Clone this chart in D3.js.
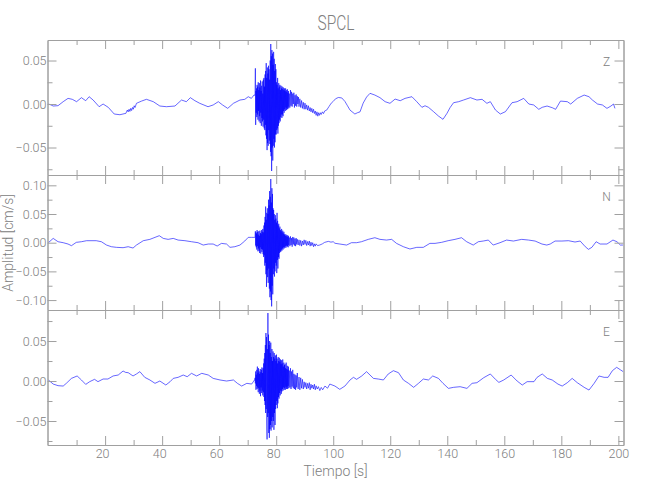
<!DOCTYPE html>
<html>
<head>
<meta charset="utf-8">
<script src="https://cdn.jsdelivr.net/npm/d3@7"></script>
<style>
  body { margin: 0; background: #fff; }
  text { font-family: "Roboto", "Liberation Sans Narrow", sans-serif; font-weight: 300; fill: #808080; }
  .axis path, .axis line { stroke: #a0a0a0; }
</style>
</head>
<body>
<div id="chart"></div>
<script>
// chart text
const title = 'SPCL';
const xLabel = 'Tiempo [s]';
const yLabel = 'Amplitud [cm/s]';
const components = ['Z', 'N', 'E'];

// axis ticks
const xMajor = [20, 40, 60, 80, 100, 120, 140, 160, 180, 200];
const xMinor = [10, 30, 50, 70, 90, 110, 130, 150, 170, 190];
const xDomain = [-0.2, 201.8];
const yDomains = [[-0.0816, 0.0736], [-0.1173, 0.118], [-0.08, 0.0888]];
const yMajor = [[-0.05, 0, 0.05], [-0.10, -0.05, 0, 0.05, 0.10], [-0.05, 0, 0.05]];
const yMinor = [[-0.075, -0.025, 0.025], [-0.075, -0.025, 0.025, 0.075], [-0.075, -0.025, 0.025, 0.075]];

// the burst is sampled every 0.1 s from 72.5 s
const burstStart = 72.5;
const burstStep = 0.1;

// ---- Z ----
const zPre = [[0.1,0],[1.0,-0.001],[1.8,-0.0023],[3.5,-0.0019],[5.3,0.0027],[7.0,0.0065],[8.5,0.0054],[10.0,0.0027],
  [11.7,0.0073],[13.2,0.0038],[14.4,0.0084],[15.8,0.0046],[17.9,-0.0031],[19.3,0],[21.1,-0.0038],[23.2,-0.0115],
  [25.2,-0.0123],[27.3,-0.0107],[27.8,-0.0069],[28.1,-0.009],[28.4,-0.006],[28.7,-0.0085],[29.0,-0.005],[29.3,-0.0075],
  [29.6,-0.004],[29.9,-0.006],[30.2,-0.002],[30.5,-0.004],[31.0,0.0008],[32.8,0.0034],[34.5,0.0054],[36.9,0.0027],
  [39.2,-0.0023],[41.5,-0.0031],[44.5,-0.0023],[46.8,0.0046],[48.5,0.0027],[49.9,0.0073],[51.5,0.0038],[53.2,0.0008],
  [56.1,-0.0031],[57.9,-0.0011],[59.7,0.0027],[61.2,-0.0011],[63.0,-0.005],[65.0,0.0008],[67.3,0.0046],[69.0,0.0054],
  [70.2,0.0084],[71.3,0.0065],[72.2,0.0103]];
const zBurst = [0.010, 0.012, 0.041, -0.024, 0.015,
  -0.010, 0.018, -0.015, 0.022, -0.012, 0.020, -0.018, 0.025, -0.008, 0.016,
  -0.020, 0.024, -0.014, 0.019, -0.022, 0.027, -0.010, 0.015, -0.025, 0.021,
  -0.016, 0.026, -0.020, 0.012, -0.026, 0.028, -0.018, 0.030, -0.028, 0.020,
  -0.030, 0.034, -0.024, 0.038, -0.036, 0.047, -0.040, 0.030, -0.053, 0.042,
  -0.045, 0.035, -0.048, 0.044, -0.030, 0.040, -0.042, 0.028, -0.046, 0.050,
  -0.055, 0.069, -0.060, 0.055, -0.077, 0.062, -0.050, 0.058, -0.065, 0.045,
  -0.048, 0.060, -0.040, 0.052, -0.050, 0.038, -0.044, 0.046, -0.035, 0.040,
  -0.035, 0.025, -0.030, 0.022, -0.028, 0.030, -0.034, 0.018, -0.025, 0.024,
  -0.022, 0.020, -0.018, 0.022, -0.020, 0.016, -0.015, 0.021, -0.012, 0.018,
  -0.016, 0.020, -0.012, 0.017, -0.014, 0.019, -0.008, 0.016, -0.010, 0.018,
  -0.006, 0.015, -0.008, 0.018, -0.004, 0.014, -0.007, 0.016, -0.005, 0.017,
  -0.006, 0.013, -0.003, 0.015, -0.005];
const zPost = [[84.6,0.012],[84.8,-0.004],[85.0,0.016],[85.2,-0.002],[85.4,0.014],[85.6,-0.003],[85.8,0.012],[86.0,0.000],
  [86.2,0.013],[86.4,-0.004],[86.6,0.010],[86.8,-0.002],[87.0,0.011],[87.2,-0.003],[87.4,0.009],[87.6,0.000],[87.8,0.008],
  [88.0,-0.003],[88.3,0.006],[88.6,-0.004],[88.9,0.004],[89.2,-0.005],[89.5,0.002],[89.8,-0.006],[90.1,0.001],[90.4,-0.006],
  [90.7,-0.001],[91.0,-0.007],[91.3,-0.002],[91.6,-0.008],[91.9,-0.004],[92.2,-0.009],[92.5,-0.005],[92.8,-0.010],
  [93.1,-0.006],[93.4,-0.011],[93.7,-0.008],[94.0,-0.013],[94.3,-0.009],[94.6,-0.014],[94.9,-0.010],[95.2,-0.013],
  [95.5,-0.010],[95.8,-0.012],[96.2,-0.009],[96.6,-0.011],[97.0,-0.008],[97.7,-0.007],[98.5,-0.003],[99.3,0.001],
  [100.0,0.003],[100.8,0.006],[101.8,0.0075],[103.0,0.007],[104.1,0.003],[105.0,-0.002],[105.9,-0.007],[107.6,-0.0115],
  [108.5,-0.010],[109.4,-0.009],[110.5,0.001],[111.7,0.008],[112.9,0.0123],[114.6,0.0103],[116.4,0.0073],[118.2,0.0027],
  [119.9,0.0008],[121.7,0.0057],[123.5,0.0038],[125.2,0.0065],[127.6,0.0084],[129.3,0.0027],[131.1,-0.0038],[132.2,-0.002],
  [133.4,-0.0038],[135.2,-0.0088],[136.9,-0.0138],[138.5,-0.0176],[139.9,-0.0107],[141.0,-0.004],[142.2,0.0015],
  [144.0,0.0027],[145.7,0.0046],[148.1,0.0073],[150.4,0.0046],[152.2,0.0054],[153.9,0.0008],[155.1,0.0027],[156.9,-0.0069],
  [158.6,-0.0115],[160.4,-0.0088],[162.7,0.0015],[164.5,0.0027],[166.8,0.0065],[168.6,0.0],[170.3,-0.0011],[172.1,-0.0061],
  [173.3,-0.0038],[175.0,-0.0023],[176.8,-0.0042],[178.0,-0.0061],[179.7,0.0034],[182.1,0.0027],[183.3,0.0],[185.6,0.0065],
  [188.0,0.0103],[189.7,0.0084],[190.9,0.0046],[192.7,0.0],[194.4,-0.0011],[196.0,-0.005],[197.4,-0.0023],[198.3,0.0],
  [198.8,-0.005]];

// ---- N ----
const nPre = [[0.1,0],[1.8,0.0075],[3.5,0.0017],[5.3,0],[7.0,-0.0023],[8.2,-0.0052],[9.9,0.0006],[11.7,0.0017],
  [13.5,0.0035],[16.9,0.0035],[18.7,0.0017],[20.5,-0.0041],[22.2,-0.007],[24.0,-0.0081],[26.3,-0.0087],[28.1,-0.007],
  [29.8,-0.0093],[31.0,-0.0041],[33.4,0.0035],[35.7,0.0058],[37.5,0.0093],[39.0,0.0122],[40.4,0.0075],[42.1,0.0058],
  [43.9,0.0075],[45.6,0.0046],[48.0,0.0035],[50.3,0.0017],[52.6,0],[54.4,-0.0041],[56.2,-0.0023],[57.9,-0.0023],
  [59.3,-0.0058],[60.8,-0.0012],[62.6,-0.0023],[63.8,-0.0081],[65.5,-0.007],[67.3,-0.0041],[69.0,0.0030],[70.2,0.0093],
  [71.4,0.0093],[72.4,0.0093]];
const nBurst = [0.009, 0.010, 0.020, -0.005, 0.018,
  -0.008, 0.016, -0.012, 0.022, -0.006, 0.019, -0.015, 0.014, -0.010, 0.020,
  -0.014, 0.012, -0.018, 0.021, -0.008, 0.017, -0.019, 0.015, -0.011, 0.022,
  -0.016, 0.019, -0.012, 0.024, -0.020, 0.018, -0.025, 0.030, -0.022, 0.035,
  -0.040, 0.045, -0.035, 0.063, -0.055, 0.040, -0.077, 0.052, -0.048, 0.060,
  -0.060, 0.050, -0.070, 0.075, -0.045, 0.065, -0.080, 0.090, -0.095, 0.080,
  -0.085, 0.111, -0.100, 0.070, -0.111, 0.095, -0.075, 0.085, -0.090, 0.060,
  -0.055, 0.057, -0.045, 0.050, -0.059, 0.040, -0.050, 0.048, -0.035, 0.042,
  -0.040, 0.035, -0.053, 0.052, -0.030, 0.038, -0.045, 0.030, -0.025, 0.033,
  -0.028, 0.025, -0.018, 0.028, -0.015, 0.022, -0.016, 0.020, -0.012, 0.024,
  -0.014, 0.018, -0.010, 0.021, -0.012, 0.016, -0.008, 0.019, -0.010, 0.014,
  -0.008, 0.015, -0.006, 0.012, -0.009, 0.014, -0.005, 0.011, -0.007, 0.013,
  -0.006, 0.010, -0.008, 0.012, -0.004];
const nPost = [[84.6,0.009],[84.8,-0.006],[85.0,0.011],[85.2,-0.004],[85.4,0.008],[85.6,-0.007],[85.8,0.010],[86.0,-0.003],
  [86.2,0.009],[86.4,-0.005],[86.6,0.007],[86.8,-0.006],[87.0,0.008],[87.2,-0.003],[87.4,0.006],[87.7,-0.004],[88.0,0.005],
  [88.3,-0.005],[88.6,0.004],[88.9,-0.006],[89.2,0.003],[89.5,-0.004],[89.8,0.005],[90.1,-0.003],[90.4,0.004],[90.7,-0.005],
  [91.0,0.002],[91.3,-0.004],[91.6,0.003],[91.9,-0.006],[92.2,0.001],[92.5,-0.005],[92.8,0.000],[93.1,-0.007],[93.4,-0.002],
  [93.7,-0.006],[94.0,-0.002],[94.5,-0.005],[95.3,-0.004],[96.2,-0.002],[97.0,0.0006],[98.3,0.0023],[99.2,0.001],
  [100.0,0.0017],[100.6,-0.001],[102.3,-0.0023],[104.7,-0.0041],[106.4,0],[108.2,0],[109.9,0.0017],[112.3,0.0058],
  [114.6,0.0087],[116.4,0.0058],[118.7,0.0046],[120.5,0.0058],[122.2,-0.0012],[124.6,-0.007],[126.9,-0.011],[129.3,-0.0081],
  [131.6,-0.0081],[133.9,-0.0012],[135.7,-0.0012],[138.0,0.0006],[140.3,0.0035],[142.7,0.0058],[145.0,0.0087],
  [146.8,0.0017],[149.1,-0.0041],[150.9,0.0017],[152.6,0.0029],[154.4,0.0046],[156.1,-0.0041],[158.5,0],[160.8,0.0046],
  [163.2,0.0029],[166.1,0.0058],[168.5,0.0046],[170.8,0.0029],[173.2,-0.0023],[174.9,-0.0041],[176.1,-0.0023],
  [177.8,0.0029],[180.2,0.0029],[182.5,0.0035],[184.8,0.0012],[186.6,0.0029],[188.4,-0.007],[189.5,-0.0116],[190.7,-0.0081],
  [192.2,0.0017],[193.6,-0.0023],[196.0,-0.0023],[198.1,0.0046],[199.5,0.0017],[200.7,-0.0041],[201.6,-0.0041]];

// ---- E ----
const ePre = [[0.1,0.0013],[1.8,-0.0038],[3.5,-0.0058],[5.3,-0.0063],[6.4,-0.0029],[8.2,0.0033],[10.2,0.0063],
  [11.7,0.0013],[13.2,-0.0042],[14.6,-0.0008],[16.3,0.0021],[17.5,-0.0008],[19.3,0.0025],[21.0,0.0025],[22.8,0.0063],
  [24.6,0.0075],[26.3,0.0125],[27.2,0.0108],[28.1,0.0104],[29.8,0.0063],[31.0,0.0088],[32.2,0.0117],[33.9,0.0046],
  [35.7,0.0013],[37.5,-0.0029],[39.2,0],[41.3,-0.005],[42.8,-0.0008],[43.9,0.0033],[45.6,0.0046],[47.4,0.0075],
  [48.8,0.0054],[50.3,0.0096],[52.1,0.0063],[53.9,0.0096],[56.2,0.0075],[57.9,0.0033],[60.3,0.0013],[62.6,0],
  [65.0,0.0013],[66.4,-0.0029],[67.9,-0.0063],[69.7,-0.0029],[71.4,-0.0038],[72.4,0.0013]];
const eBurst = [0.001, 0.004, -0.003, 0.012, -0.011,
  0.008, -0.006, 0.014, -0.010, 0.018, -0.008, 0.010, -0.014, 0.016, -0.009,
  0.012, -0.016, 0.009, -0.012, 0.015, -0.019, 0.011, -0.008, 0.014, -0.015,
  0.017, -0.012, 0.010, -0.018, 0.016, -0.014, 0.022, -0.020, 0.028, -0.025,
  0.035, -0.030, 0.045, -0.040, 0.060, -0.035, 0.055, -0.050, -0.073, 0.040,
  -0.045, 0.085, -0.040, 0.058, -0.065, 0.045, -0.071, 0.050, -0.060, 0.035,
  -0.055, 0.048, -0.062, 0.030, -0.050, 0.040, -0.058, 0.025, -0.045, 0.037,
  -0.050, 0.030, -0.061, 0.035, -0.040, 0.028, -0.055, 0.032, -0.035, 0.025,
  -0.030, 0.033, -0.025, 0.028, -0.034, 0.022, -0.028, 0.030, -0.020, 0.025,
  -0.022, 0.029, -0.015, 0.024, -0.018, 0.027, -0.012, 0.021, -0.016, 0.026,
  -0.013, 0.022, -0.010, 0.027, -0.012, 0.018, -0.008, 0.023, -0.011, 0.020,
  -0.009, 0.021, -0.011, 0.016, -0.007, 0.023, -0.010, 0.015, -0.008, 0.019,
  -0.010, 0.014, -0.006, 0.018, -0.009];
const ePost = [[84.6,0.013],[84.8,-0.008],[85.0,0.016],[85.2,-0.010],[85.4,0.012],[85.6,-0.007],[85.8,0.014],[86.0,-0.009],
  [86.2,0.009],[86.4,-0.010],[86.6,0.008],[86.8,-0.011],[87.0,0.007],[87.2,-0.008],[87.4,0.010],[87.7,-0.010],[88.0,0.005],
  [88.3,-0.011],[88.6,0.004],[88.9,-0.009],[89.2,0.002],[89.5,-0.010],[89.8,-0.001],[90.1,-0.008],[90.4,-0.002],
  [90.7,-0.010],[91.0,-0.003],[91.3,-0.009],[91.6,-0.002],[91.9,-0.011],[92.2,-0.004],[92.5,-0.009],[92.8,-0.005],
  [93.1,-0.010],[93.4,-0.004],[93.7,-0.011],[94.0,-0.006],[94.4,-0.010],[94.8,-0.007],[95.3,-0.012],[95.8,-0.008],
  [96.3,-0.011],[97.1,-0.0063],[98.0,-0.009],[98.8,-0.0038],[100.6,-0.0063],[102.3,-0.0104],[104.1,-0.0063],
  [105.9,0.0013],[107.1,0.0046],[108.2,0.0021],[110.0,0.0063],[111.7,0.0117],[114.1,0.0033],[115.8,0.0025],[117.6,0.0013],
  [119.3,0.0088],[121.1,0.0129],[122.9,0.0104],[124.6,0.0013],[126.4,-0.0029],[128.2,-0.0079],[129.9,-0.0029],
  [131.6,0.0025],[133.4,0.0013],[134.9,0.0063],[136.9,0.0033],[138.5,-0.0029],[140.4,-0.0092],[142.2,-0.0079],
  [144.5,-0.0071],[146.9,-0.0092],[148.7,-0.0029],[150.4,-0.0021],[152.8,0.0042],[155.1,0.0088],[156.9,0.0021],
  [158.1,-0.0017],[159.8,0.0013],[162.4,0.0075],[164.5,0],[166.3,-0.005],[168.0,-0.0008],[170.4,-0.0008],[171.5,0.0046],
  [173.3,0.0088],[175.1,0.0033],[176.8,0.0013],[178.8,-0.0038],[180.3,-0.0063],[182.1,-0.0021],[183.8,0.0033],
  [185.6,-0.0021],[188.0,-0.0079],[189.7,-0.0113],[191.5,-0.0029],[193.2,0.0063],[195.0,0.0046],[196.4,0.0046],
  [197.9,0.0129],[199.4,0.0171],[200.8,0.0138],[201.7,0.0117]];

const traces = [[zPre, zBurst, zPost], [nPre, nBurst, nPost], [ePre, eBurst, ePost]]
  .map(([pre, burst, post]) => pre.concat(burst.map((v, i) => [burstStart + i * burstStep, v]), post));

const width = 650, height = 500;
const left = 47.5, right = 623.5;
const panelTops = [40, 175, 310];
const panelH = 135;

const svg = d3.select('#chart').append('svg')
  .attr('width', width)
  .attr('height', height);

const x = d3.scaleLinear().domain(xDomain).range([left, right]);
const fmt = d3.format('.2f');

components.forEach((comp, i) => {
  const top = panelTops[i], bottom = top + panelH;
  const y = d3.scaleLinear().domain(yDomains[i]).range([bottom, top]);
  const g = svg.append('g');

  g.append('clipPath').attr('id', 'clip' + i)
    .append('rect').attr('x', left).attr('y', top).attr('width', right - left).attr('height', panelH);

  g.append('path')
    .datum(traces[i])
    .attr('clip-path', `url(#clip${i})`)
    .attr('fill', 'none')
    .attr('stroke', '#0000ff')
    .attr('stroke-width', 0.6)
    .attr('d', d3.line().x(d => x(d[0])).y(d => y(d[1])));

  // left axis with labels
  g.append('g').attr('class', 'axis').attr('transform', `translate(${left},0)`)
    .call(d3.axisLeft(y).tickValues(yMajor[i]).tickSizeInner(-9).tickSizeOuter(0).tickPadding(1).tickFormat(fmt))
    .call(a => a.selectAll('text').style('font-size', '12.5px').attr('fill', '#808080'));
  g.append('g').attr('class', 'axis').attr('transform', `translate(${left},0)`)
    .call(d3.axisLeft(y).tickValues(yMinor[i]).tickSizeInner(-5).tickSizeOuter(0).tickFormat(''));
  // right axis
  g.append('g').attr('class', 'axis').attr('transform', `translate(${right},0)`)
    .call(d3.axisRight(y).tickValues(yMajor[i]).tickSizeInner(-9).tickSizeOuter(0).tickFormat(''));
  g.append('g').attr('class', 'axis').attr('transform', `translate(${right},0)`)
    .call(d3.axisRight(y).tickValues(yMinor[i]).tickSizeInner(-5).tickSizeOuter(0).tickFormat(''));
  // top axis
  g.append('g').attr('class', 'axis').attr('transform', `translate(0,${top})`)
    .call(d3.axisTop(x).tickValues(xMajor).tickSizeInner(-9).tickSizeOuter(0).tickFormat(''));
  g.append('g').attr('class', 'axis').attr('transform', `translate(0,${top})`)
    .call(d3.axisTop(x).tickValues(xMinor).tickSizeInner(-5).tickSizeOuter(0).tickFormat(''));
  // bottom axis
  const last = i === components.length - 1;
  g.append('g').attr('class', 'axis').attr('transform', `translate(0,${bottom})`)
    .call(d3.axisBottom(x).tickValues(xMajor).tickSizeInner(-9).tickSizeOuter(0).tickPadding(4)
      .tickFormat(last ? d3.format('d') : ''))
    .call(a => a.selectAll('text').style('font-size', '12.5px').attr('fill', '#808080')
      .attr('dx', d => String(d).length < 3 ? -3 : 0));
  g.append('g').attr('class', 'axis').attr('transform', `translate(0,${bottom})`)
    .call(d3.axisBottom(x).tickValues(xMinor).tickSizeInner(-5).tickSizeOuter(0).tickFormat(''));

  g.append('text')
    .attr('x', 606.5).attr('y', top + 26)
    .attr('text-anchor', 'middle')
    .style('font-size', '12px')
    .text(comp);
});

svg.append('text')
  .attr('x', 336).attr('y', 30)
  .attr('text-anchor', 'middle')
  .attr('textLength', 37).attr('lengthAdjust', 'spacingAndGlyphs')
  .style('font-size', '20px')
  .text(title);

svg.append('text')
  .attr('x', 335.5).attr('y', 476)
  .attr('text-anchor', 'middle')
  .style('font-size', '14px')
  .text(xLabel);

svg.append('text')
  .attr('transform', 'translate(12.5,243) rotate(-90)')
  .attr('text-anchor', 'middle')
  .style('font-size', '14px')
  .text(yLabel);
</script>
</body>
</html>
